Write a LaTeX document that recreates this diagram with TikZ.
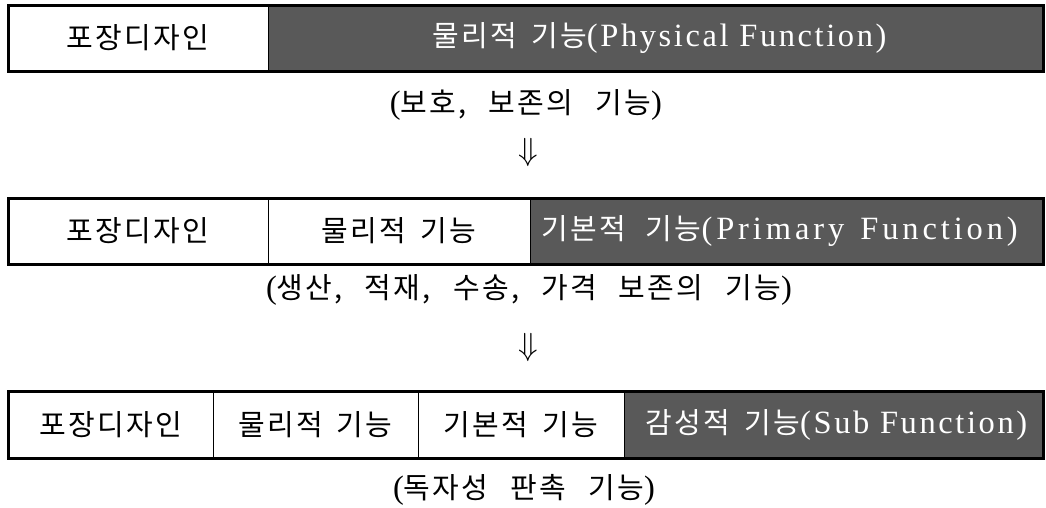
\documentclass[tikz,border=0pt]{standalone}
\usepackage{fontspec}
\setmainfont{Liberation Serif}[Scale=1.12,LetterSpace=8]
\newfontfamily\latinwide{Liberation Serif}[Scale=1.12,LetterSpace=12]
\newfontfamily\krfont{Noto Sans CJK KR}[LetterSpace=8]
\newcommand\kor[1]{{\krfont #1}}
\newcommand\kgap{\hspace{14pt}}
\newcommand\cgap{\hspace{22pt}}
\definecolor{cellgray}{HTML}{595959}
\tikzset{
  cell/.style={inner sep=0pt, outer sep=0pt, anchor=center, font=\fontsize{29}{34}\selectfont},
  darkcell/.style={cell, fill=cellgray, text=white},
  lightcell/.style={cell, fill=white},
  frame/.style={line width=3pt, draw=black},
  divider/.style={line width=0.9pt, draw=black},
  caption/.style={inner sep=0pt, font=\fontsize{29}{34}\selectfont},
  arrowmark/.style={inner sep=0pt, font=\fontsize{10}{12}\selectfont}
}
\begin{document}
\begin{tikzpicture}[x=1pt,y=-1pt]
\useasboundingbox (0,0) rectangle (1046,507);
% row 1
\node[lightcell, minimum width=260pt, minimum height=66pt] (r1a) at (138,38) {\kor{포장디자인}};
\node[darkcell, minimum width=775pt, minimum height=66pt] (r1b) at (655.5,38) {\kor{물리적\kgap 기능}(Physical Function)\kern-8pt\relax};
\draw[frame] (r1a.north west) rectangle (r1b.south east);
\draw[divider] (r1a.north east) -- (r1a.south east);
\node[caption] (c1) at (526,105) {(\kor{보호,\cgap 보존의\cgap 기능})};
\node[arrowmark] (a1) at (528,152) {\scalebox{3.2}{$\Downarrow$}};
% row 2
\node[lightcell, minimum width=260pt, minimum height=66pt] (r2a) at (138,231) {\kor{포장디자인}};
\node[lightcell, minimum width=262pt, minimum height=66pt] (r2b) at (399,231) {\kor{물리적\kgap 기능}};
\node[darkcell, minimum width=513pt, minimum height=66pt] (r2c) at (786.5,231) {\kor{기본적\hspace{20pt}기능}{\latinwide(Primary\hspace{16pt}Function)}\kern14pt\relax};
\draw[frame] (r2a.north west) rectangle (r2c.south east);
\draw[divider] (r2a.north east) -- (r2a.south east);
\draw[divider] (r2b.north east) -- (r2b.south east);
\node[caption] (c2) at (529,290) {(\kor{생산,\cgap 적재,\cgap 수송,\cgap 가격\cgap 보존의\cgap 기능})};
\node[arrowmark] (a2) at (528,347) {\scalebox{3.2}{$\Downarrow$}};
% row 3
\node[lightcell, minimum width=205pt, minimum height=67pt] (r3a) at (110.5,424.5) {\kor{포장디자인}};
\node[lightcell, minimum width=205pt, minimum height=67pt] (r3b) at (315.5,424.5) {\kor{물리적\kgap 기능}};
\node[lightcell, minimum width=206pt, minimum height=67pt] (r3c) at (521,424.5) {\kor{기본적\kgap 기능}};
\node[darkcell, minimum width=419pt, minimum height=67pt] (r3d) at (833.5,424.5) {\kor{감성적\kgap 기능}(Sub Function)\kern-6pt\relax};
\draw[frame] (r3a.north west) rectangle (r3d.south east);
\draw[divider] (r3a.north east) -- (r3a.south east);
\draw[divider] (r3b.north east) -- (r3b.south east);
\draw[divider] (r3c.north east) -- (r3c.south east);
\node[caption] (c3) at (524,490) {(\kor{독자성\cgap 판촉\cgap 기능})};
\end{tikzpicture}
\end{document}
